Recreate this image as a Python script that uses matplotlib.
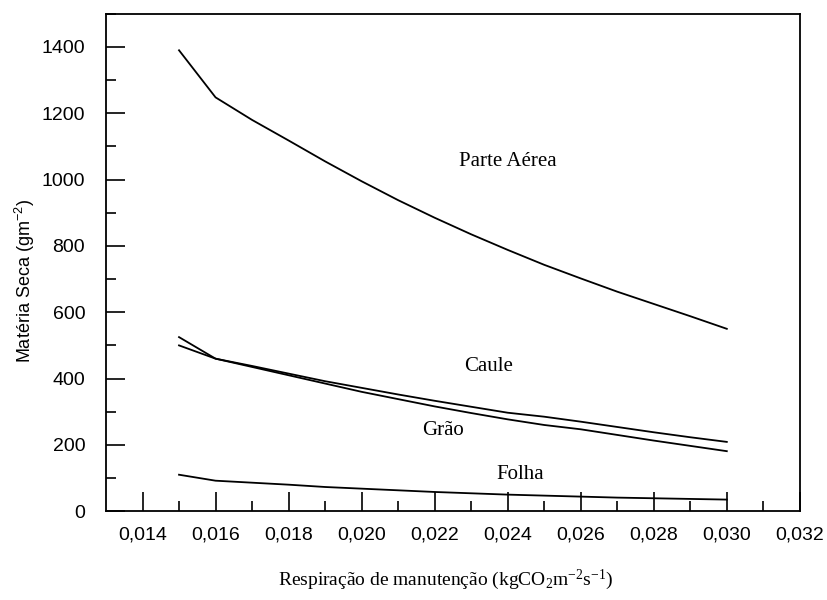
import numpy as np
import matplotlib
matplotlib.use('Agg')
import matplotlib.pyplot as plt
from matplotlib.ticker import MultipleLocator, FuncFormatter

# Respiração de manutenção (kgCO2 m-2 s-1)
resp = [0.015, 0.016, 0.017, 0.018, 0.019, 0.020, 0.021, 0.022,
        0.023, 0.024, 0.025, 0.026, 0.027, 0.028, 0.029, 0.030]

# Matéria seca (g m-2)
parte_aerea = [1390, 1248, 1180, 1118, 1055, 995, 938, 885,
               835, 788, 743, 702, 662, 625, 588, 550]
caule = [500, 460, 438, 415, 392, 372, 352, 333,
         315, 297, 285, 270, 254, 238, 223, 209]
grao = [525, 460, 435, 410, 385, 360, 338, 316,
        296, 277, 260, 247, 230, 213, 197, 181]
folha = [110, 92, 86, 80, 73, 68, 63, 58,
         54, 50, 47, 44, 41, 39, 37, 35]

labels = ['Parte Aérea', 'Caule', 'Grão', 'Folha']
label_pos = [(0.02399, 1056), (0.02347, 436), (0.02223, 242), (0.02434, 112)]

serif = 'Liberation Serif'
sans = 'Liberation Sans'
# texto matemático usa a mesma fonte do rótulo
plt.rcParams['mathtext.default'] = 'regular'

fig = plt.figure(figsize=(8.28, 6), dpi=100)
ax = fig.add_axes([0.128, 0.148, 0.838, 0.829])

for serie in [parte_aerea, caule, grao, folha]:
    ax.plot(resp, serie, color='black', lw=1.3)

for txt, (x, y) in zip(labels, label_pos):
    ax.text(x, y, txt, family=serif, fontsize=15, ha='center', va='center')

ax.set_xlim(0.013, 0.032)
ax.set_ylim(0, 1500)

ax.xaxis.set_major_locator(MultipleLocator(0.002))
ax.yaxis.set_major_locator(MultipleLocator(200))
ax.yaxis.set_minor_locator(MultipleLocator(100))
ax.xaxis.set_major_formatter(FuncFormatter(lambda v, p: f'{v:.3f}'.replace('.', ',')))
# marcas menores em 0,015 ... 0,031
ax.set_xticks(np.arange(0.015, 0.0315, 0.002), minor=True)

# ticks apontando para dentro, só nos eixos inferior e esquerdo
ax.tick_params(which='major', direction='in', length=14, width=1.2,
               labelsize=14, pad=11)
ax.tick_params(which='minor', direction='in', length=7, width=1.2)
ax.tick_params(axis='y', which='major', pad=15)
for lab in ax.get_xticklabels() + ax.get_yticklabels():
    lab.set_family(sans)

for sp in ax.spines.values():
    sp.set_linewidth(1.3)

ax.set_ylabel('Matéria Seca (gm$^{-2}$)', family=sans, fontsize=13)
ax.set_xlabel('Respiração de manutenção (kgCO$_2$m$^{-2}$s$^{-1}$)',
              family=serif, fontsize=14)
ax.yaxis.set_label_coords(-0.1, 0.463)
ax.xaxis.set_label_coords(0.49, -0.113)

fig.savefig('out.png', dpi=100)
